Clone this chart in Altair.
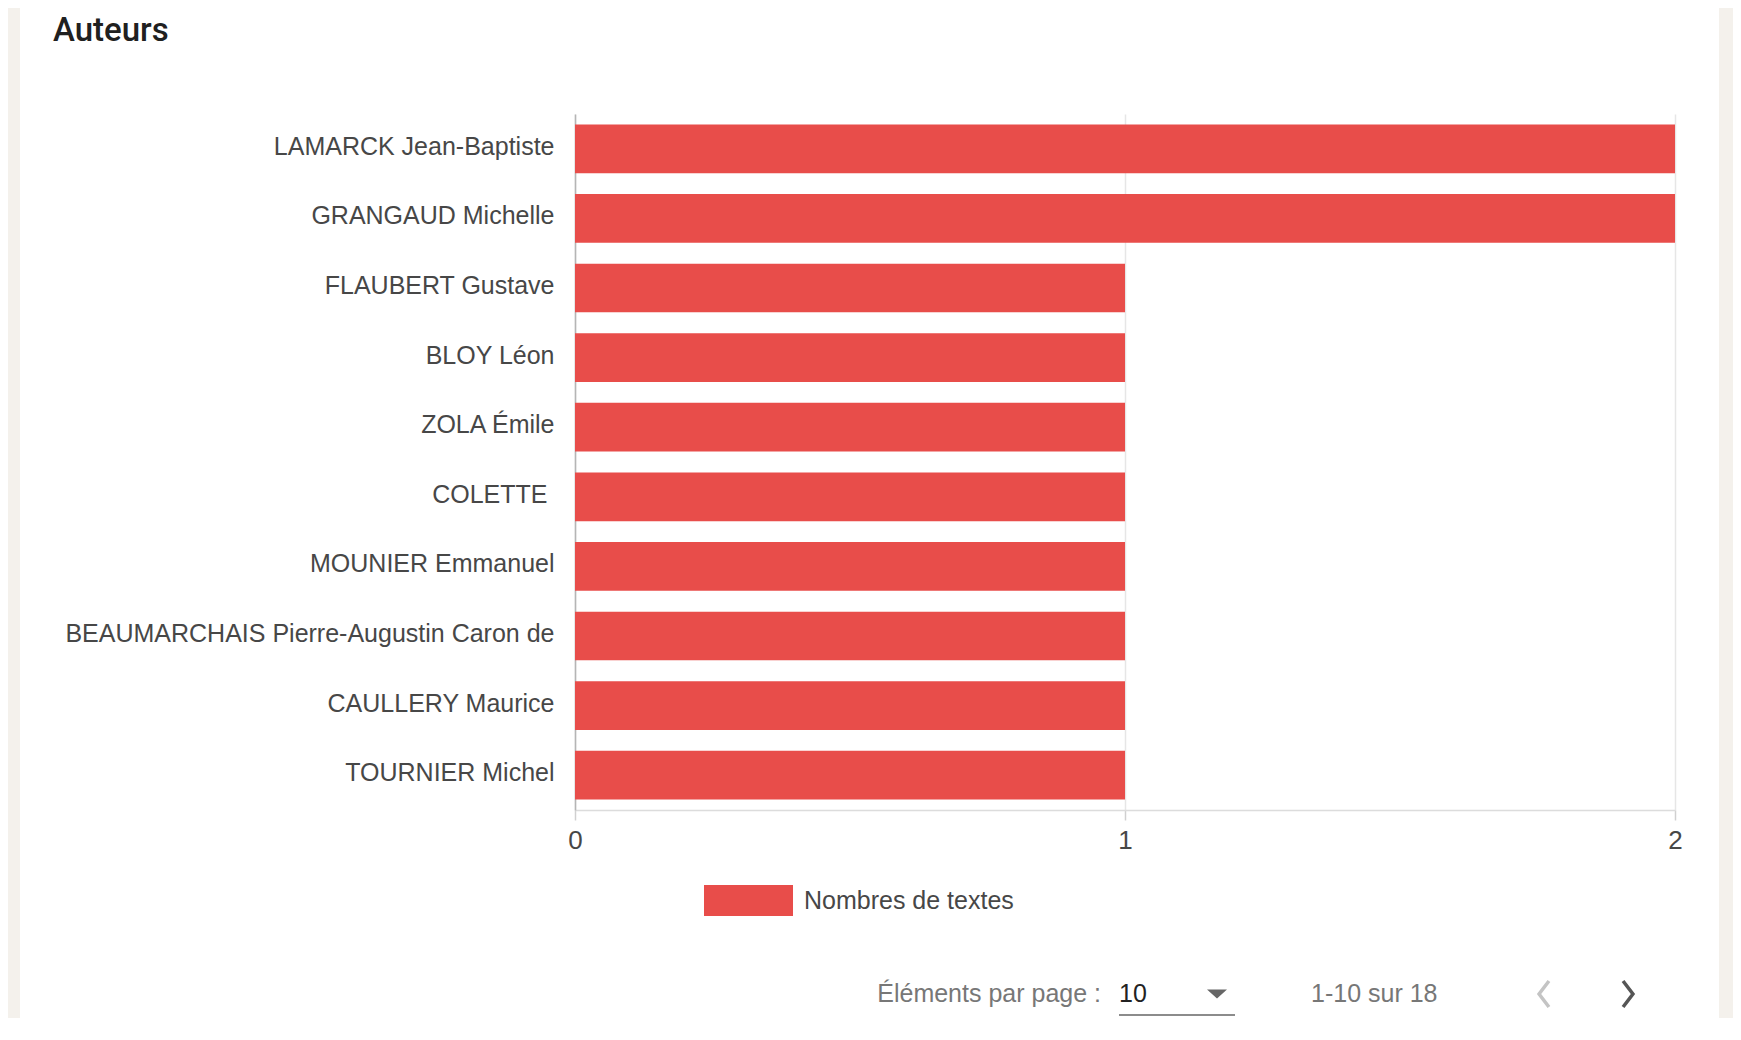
import altair as alt
import pandas as pd

# ---- data ----
auteurs = [
    "LAMARCK Jean-Baptiste",
    "GRANGAUD Michelle",
    "FLAUBERT Gustave",
    "BLOY Léon",
    "ZOLA Émile",
    "COLETTE ",
    "MOUNIER Emmanuel",
    "BEAUMARCHAIS Pierre-Augustin Caron de",
    "CAULLERY Maurice",
    "TOURNIER Michel",
]
nombres = [2, 2, 1, 1, 1, 1, 1, 1, 1, 1]
serie = "Nombres de textes"
x_ticks = [0, 1, 2]
titre = "Auteurs"
pagination_label = "Éléments par page :"
pagination_value = "10"
pagination_range = "1-10 sur 18"

RED = "#e84d4a"
BEIGE = "#f4f1ec"
FONT = "Liberation Sans, Arial, sans-serif"
FS = 25

df = pd.DataFrame({"auteur": auteurs, "n": nombres, "serie": [serie] * len(auteurs)})
one = pd.DataFrame({"k": [0]})

W, H = 1100, 696

bars = alt.Chart(df).mark_bar().encode(
    y=alt.Y(
        "auteur:N",
        sort=auteurs,
        title=None,
        scale=alt.Scale(paddingInner=0.3, paddingOuter=0.15),
        axis=alt.Axis(
            ticks=False, grid=False, domain=True, domainColor="#b5b5b5", domainWidth=1.5,
            labelFont=FONT, labelFontSize=FS, labelColor="#474747", labelOffset=-2,
            labelPadding={"condition": {"test": "indexof(datum.value, 'COLETTE') >= 0", "value": 28},
                          "value": 21},
            labelLimit=800,
        ),
    ),
    x=alt.X(
        "n:Q",
        title=None,
        scale=alt.Scale(domain=[0, 2], nice=False),
        axis=alt.Axis(
            values=x_ticks, tickCount=10, labelExpr="format(datum.value, 'd')",
            grid=True, gridColor="#e6e6e6", gridWidth=1.5,
            domain=True, domainColor="#dcdcdc", domainWidth=1.5,
            ticks=True, tickSize=10, tickColor="#d0d0d0", tickWidth=1.5,
            labelFont=FONT, labelFontSize=26, labelColor="#474747", labelPadding=7,
            labelFlush=False, labelOverlap=False,
        ),
    ),
    color=alt.Color(
        "serie:N",
        scale=alt.Scale(domain=[serie], range=[RED]),
        legend=alt.Legend(
            orient="none", legendX=129, legendY=742, title=None,
            symbolType="M-1,-0.348L1,-0.348L1,0.348L-1,0.348Z", symbolSize=7921,
            symbolStrokeWidth=0, symbolOpacity=1, symbolFillColor=RED,
            labelFont=FONT, labelFontSize=FS, labelColor="#474747", labelOffset=11,
            labelLimit=500, padding=0,
        ),
    ),
)

def rect(x, x2, y, y2, color):
    return alt.Chart(one).mark_rect(color=color).encode(
        x=alt.value(x), x2=alt.value(x2), y=alt.value(y), y2=alt.value(y2)
    )

def text(t, x, y, align="left", baseline="middle", **kw):
    return alt.Chart(one).mark_text(text=t, align=align, baseline=baseline, **kw).encode(
        x=alt.value(x), y=alt.value(y)
    )

left_strip = rect(-567, -555, -106, 904, BEIGE)
right_strip = rect(1144, 1158, -106, 904, BEIGE)

title = text(titre, -522, -73, baseline="alphabetic", font="Roboto", fontSize=33,
             fontWeight=500, color="#202020")

pag1 = text(pagination_label, 526, 880, align="right", font=FONT, fontSize=FS, color="#777777")
pag2 = text(pagination_value, 544, 880, font=FONT, fontSize=FS, color="#222222")
pag3 = text(pagination_range, 736, 880, font=FONT, fontSize=FS, color="#777777")
underline = alt.Chart(one).mark_rule(color="#666666", strokeWidth=1.5).encode(
    x=alt.value(544), x2=alt.value(660), y=alt.value(901)
)
triangle = alt.Chart(one).mark_point(
    shape="M-1,-0.45L1,-0.45L0,0.45Z", filled=True, size=400, color="#666666", opacity=1
).encode(x=alt.value(642), y=alt.value(880))
prev_arrow = alt.Chart(one).mark_point(
    shape="M0.38,-1L-0.38,0L0.38,1", filled=False, size=676, strokeWidth=3.5,
    color="#c4c4c4", opacity=1
).encode(x=alt.value(969), y=alt.value(880))
next_arrow = alt.Chart(one).mark_point(
    shape="M-0.38,-1L0.38,0L-0.38,1", filled=False, size=676, strokeWidth=3.5,
    color="#555555", opacity=1
).encode(x=alt.value(1053), y=alt.value(880))

chart = alt.layer(
    left_strip, right_strip, bars, title, pag1, pag2, pag3, underline, triangle,
    prev_arrow, next_arrow,
).properties(
    width=W, height=H,
    autosize=alt.AutoSizeParams(type="none"),
    padding={"left": 567, "top": 106, "right": 58, "bottom": 216},
    background="white",
).configure_view(stroke=None)

chart.save("out.html", embed_options={"renderer": "svg", "actions": False})
